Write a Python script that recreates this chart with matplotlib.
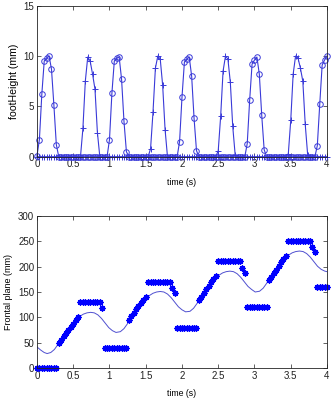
import matplotlib
matplotlib.use("Agg")
import matplotlib.pyplot as plt
import numpy as np

plt.rcParams['font.family'] = ['Liberation Sans', 'DejaVu Sans']

# sampling: 30 Hz over 0..4 s (121 samples)
fs = 30
t = np.arange(121) / fs

# foot heights (mm), one value per sample
foot_o = ([0.1, 1.7, 6.2, 9.5, 9.8, 10.0, 8.7, 5.1, 1.2] + [0.0] * 21
          + [1.7, 6.3, 9.5, 9.8, 9.9, 7.7, 3.5, 0.5] + [0.0] * 21
          + [1.5, 5.9, 9.4, 9.7, 9.9, 8.0, 3.8, 0.6] + [0.0] * 20
          + [1.3, 5.6, 9.2, 9.6, 9.9, 8.2, 4.1, 0.7] + [0.0] * 21
          + [1.1, 5.2, 9.1, 9.6, 10.0])
foot_p = ([0.0] * 19
          + [2.8, 7.5, 9.9, 9.5, 8.2, 6.7, 2.4] + [0.0] * 21
          + [0.8, 4.4, 8.8, 10.0, 9.7, 7.1, 2.7] + [0.0] * 21
          + [0.6, 4.0, 8.5, 10.0, 9.7, 7.4, 3.0, 0.2] + [0.0] * 21
          + [0.3, 3.6, 8.2, 10.0, 9.8, 8.8, 7.5, 3.2, 0.2] + [0.0] * 8)

# frontal plane reference points (mm), one per sample
zmp = ([0.0] * 9
       + [50, 56, 63, 70, 76, 82, 88, 94, 100] + [130] * 9 + [118] + [40] * 10
       + [95, 102, 109, 116, 122, 129, 135, 141] + [170] * 10 + [158, 148] + [80] * 9
       + [134, 141, 148, 155, 162, 169, 175, 181] + [210] * 10 + [198, 188] + [120] * 9
       + [173, 180, 187, 194, 201, 208, 214, 221] + [250] * 10 + [238, 229] + [160] * 5)

# smooth trajectory (mm)
com_t = [0, 0.05, 0.10, 0.14,
         0.19, 0.24, 0.29, 0.34, 0.39, 0.44, 0.49, 0.54, 0.59, 0.64, 0.69, 0.74,
         0.79, 0.84, 0.89, 0.94, 0.99, 1.04, 1.09,
         1.15, 1.20, 1.25, 1.30, 1.35, 1.40, 1.45, 1.50, 1.55, 1.60, 1.65, 1.70,
         1.75, 1.80, 1.85, 1.90, 1.95, 2.00, 2.05,
         2.11, 2.16, 2.21, 2.26, 2.31, 2.36, 2.41, 2.46, 2.51, 2.56, 2.61, 2.66,
         2.71, 2.76, 2.81, 2.86, 2.91, 2.96, 3.01,
         3.07, 3.12, 3.17, 3.22, 3.27, 3.32, 3.37, 3.42, 3.47, 3.52, 3.57, 3.62,
         3.67, 3.72, 3.77, 3.82, 3.87, 3.92, 3.97, 4.0]
com_v = [42, 36, 31, 29,
         31, 37, 47, 58, 69, 79, 88, 96, 102, 106.5, 109, 110,
         109, 105, 98, 89, 80, 74, 70.5,
         72, 78, 88, 99, 110, 120, 129, 137, 143, 147.5, 150, 151,
         150, 146, 139, 130, 121, 115, 111,
         112, 118, 128, 139, 150, 160, 169, 177, 183, 187.5, 190, 191,
         190, 186, 179, 170, 161, 155, 150,
         151.5, 157.5, 167.5, 178.5, 189.5, 199.5, 208.5, 216.5, 222.5, 227, 229.5, 230.5,
         229.5, 225.5, 218.5, 209.5, 200.5, 194.5, 191, 190]

line_c = '#3a3ad8'
fig = plt.figure(figsize=(3.32, 4.03), dpi=100)

ax1 = fig.add_axes([0.1114, 0.6112, 0.8735, 0.3747])
ax1.plot(t, foot_o, '-o', color=line_c, lw=0.8, ms=4, mfc='none', mew=0.7, clip_on=False)
ax1.plot(t, foot_p, '-+', color=line_c, lw=0.8, ms=5, mew=0.7, clip_on=False)
ax1.set_xlim(0, 4)
ax1.set_ylim(0, 15)
ax1.set_yticks([0, 5, 10, 15])
ax1.set_xlabel('time (s)', fontsize=6.3, labelpad=6)
ax1.set_ylabel('footHeight (mm)', fontsize=7.6, labelpad=3)

ax2 = fig.add_axes([0.1114, 0.0861, 0.8735, 0.3787])
ax2.plot(com_t, com_v, '-', color='#5050d0', lw=0.7)
ax2.plot(t, zmp, ls='none', marker=(8, 2, 0), color='#0000ff', ms=4.3, mew=1.0, clip_on=False)
ax2.set_xlim(0, 4)
ax2.set_ylim(0, 300)
ax2.set_yticks(range(0, 301, 50))
ax2.set_xlabel('time (s)', fontsize=6.3, labelpad=6)
ax2.set_ylabel('Frontal plane (mm)', fontsize=6.5, labelpad=4)

xt = [0, 0.5, 1, 1.5, 2, 2.5, 3, 3.5, 4]
xl = ['0', '0.5', '1', '1.5', '2', '2.5', '3', '3.5', '4']
for ax in (ax1, ax2):
    ax.set_xticks(xt)
    ax.set_xticklabels(xl)
    ax.tick_params(direction='in', top=True, right=True, length=3, width=0.5,
                   labelsize=7, pad=2, colors='#222222')
    for s in ax.spines.values():
        s.set_linewidth(0.6)
        s.set_color('#222222')

fig.savefig('out.png', dpi=100)
